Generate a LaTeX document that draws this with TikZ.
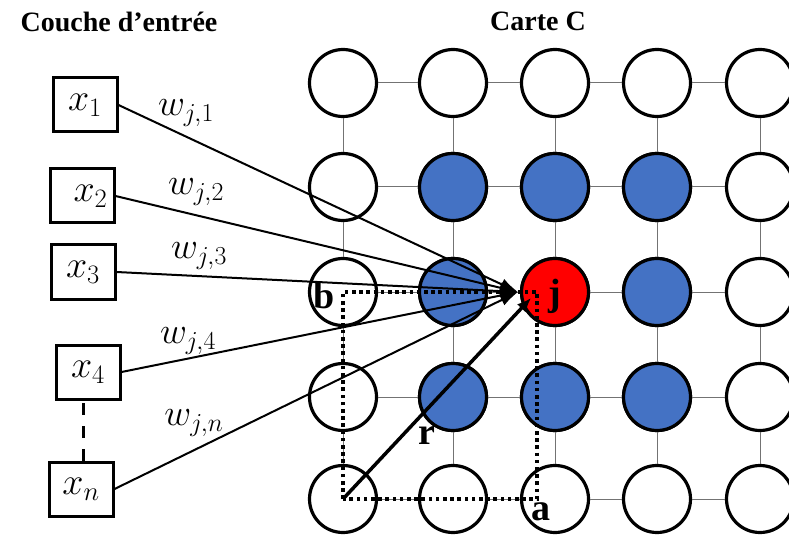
\RequirePackage{fix-cm}
\documentclass[tikz,border=0pt]{standalone}
\usepackage{fontspec}
\setmainfont{Liberation Serif}
\usepackage{xcolor}
\usetikzlibrary{arrows.meta}
\definecolor{cellblue}{RGB}{68,114,196}

\begin{document}
\begin{tikzpicture}[x=1pt,y=-1pt,
  unit/.style={circle,draw,line width=3.2pt,fill=white,minimum size=67pt,inner sep=0pt},
  inbox/.style={draw,line width=3pt,minimum width=64pt,minimum height=54pt,inner sep=0pt,font=\fontsize{38}{44}\selectfont},
  weight/.style={font=\fontsize{37}{42}\selectfont},
  link/.style={line width=2pt,-{Latex[length=18pt,width=12pt]}},
  vec/.style={line width=3.5pt,-{Latex[length=14pt,width=12pt]}},
  dotbox/.style={line width=3.6pt,dash pattern=on 3.6pt off 3.6pt},
  gridline/.style={black!55,line width=1pt},
  tag/.style={font=\fontsize{38}{42}\bfseries\selectfont},
  title/.style={font=\fontsize{28}{32}\bfseries\selectfont}]
\useasboundingbox (0,0) rectangle (789,537);
\clip (0,0) rectangle (789,537);
% titles
\node[title] (tin) at (119,22) {Couche d’entrée};
\node[title] (tmap) at (538,21) {Carte C};
% map C
\foreach \i/\x in {1/343,2/453,3/555,4/657,5/760}
  \foreach \j/\y in {1/83,2/187,3/292,4/397,5/499}
    \node[unit] (c\i\j) at (\x,\y) {};
\foreach \c in {22,32,42,23,43,24,34,44}
  \node[unit,fill=cellblue] (b\c) at (c\c) {};
\node[unit,fill=red] (win) at (c33) {};
\foreach \j in {1,...,5}
  \foreach \i/\k in {1/2,2/3,3/4,4/5} {
    \draw[gridline] (c\i\j) -- (c\k\j);
    \draw[gridline] (c\j\i) -- (c\j\k);
  }
% input layer
\node[inbox] (x1) at (85,105) {$x_1$};
\node[inbox] (x2) at (82,196) {$\;\,x_2$};
\node[inbox] (x3) at (83,272) {$x_3$};
\node[inbox] (x4) at (88,372) {$x_4$};
\node[inbox] (xn) at (81,489) {$x_n$};
\draw[line width=3pt,dash pattern=on 12pt off 11pt] (xn.north -| 83,0) -- (x4.south -| 83,0);
% weights
\coordinate (tip) at (518,292);
\foreach \k in {1,2,3,4,n}
  \draw[link] (x\k.east) -- (tip);
\node[weight] (w1) at (186,113) {$w_{j,1}$};
\node[weight] (w2) at (196,192) {$w_{j,2}$};
\node[weight] (w3) at (199,256) {$w_{j,3}$};
\node[weight] (w4) at (188,341) {$w_{j,4}$};
\node[weight] (wn) at (194,423) {$w_{j,n}$};
% neighbourhood
\coordinate (ra) at (537,292);
\coordinate (rtip) at (531,298);
\draw[dotbox] (c15.center) rectangle (ra);
\draw[vec] (c15.center) -- (rtip);
\node[tag] (lb) at (324,296) {b};
\node[tag] (lj) at (555,296) {j};
\node[tag] (lr) at (427,435) {r};
\node[tag] (la) at (541,512) {a};
\end{tikzpicture}
\end{document}
